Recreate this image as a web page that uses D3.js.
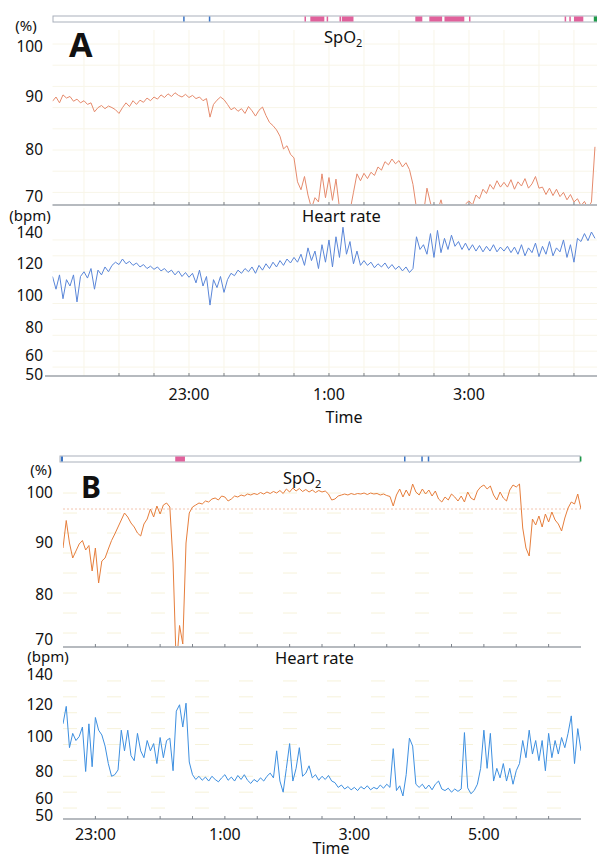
<!DOCTYPE html>
<html lang="en">
<head>
<meta charset="UTF-8">
<title>SpO2 and heart rate</title>
<script src="https://cdnjs.cloudflare.com/ajax/libs/d3/7.8.5/d3.min.js"></script>
<style>
  body { margin: 0; background: #fff; }
  text { font-family: "Noto Sans", "Open Sans", sans-serif; fill: #111; }
</style>
</head>
<body>
<div id="chart"></div>
<script>
// Panel A: one sample every 3 min from 21:03
const aStart = "21:03";
const aStep = 3;
const aSpo2 = [
  89.2, 90.0, 88.9, 90.4, 89.8, 90.1, 89.2, 89.6, 88.9, 89.3,
  88.6, 88.9, 87.2, 88.0, 88.4, 87.8, 88.3, 88.0, 87.6, 86.9,
  88.0, 88.9, 88.2, 89.3, 88.6, 89.4, 89.0, 89.8, 89.3, 90.0,
  89.6, 90.4, 89.9, 90.6, 90.1, 90.8, 90.3, 90.0, 90.5, 89.9,
  90.3, 89.7, 90.0, 89.3, 89.7, 86.2, 88.6, 89.4, 90.0, 89.5,
  88.6, 87.6, 88.0, 87.3, 87.8, 86.9, 88.2, 87.4, 86.4, 87.5,
  88.1, 86.5, 85.2, 84.6, 83.8, 82.6, 80.2, 80.8, 79.2, 78.5,
  74.0, 72.5, 75.0, 71.5, 69.0, 71.0, 70.2, 75.5, 71.0, 74.8,
  70.5, 74.5, 69.0, 68.0, 68.0, 68.5, 72.0, 75.5, 74.2, 75.6,
  74.6, 75.8, 75.2, 76.8, 76.2, 77.8, 77.2, 78.3, 77.4, 78.0,
  76.8, 77.6, 76.3, 73.5, 69.0, 68.0, 68.0, 72.8, 70.0, 68.0,
  68.5, 70.6, 68.0, 68.0, 68.0, 68.0, 68.0, 68.0, 69.8, 70.4,
  69.6, 71.5, 70.8, 72.6, 71.8, 73.5, 72.6, 74.2, 73.0, 73.9,
  73.0, 74.4, 72.6, 74.0, 73.2, 74.6, 72.8, 73.6, 75.0, 72.8,
  73.0, 71.6, 72.8, 71.4, 72.6, 71.2, 72.0, 70.6, 71.6, 70.2,
  70.8, 69.5, 70.3, 69.0, 70.2, 80.6
];
const aHr = [
  112, 104, 113, 98, 110, 106, 113, 96, 112, 115,
  111, 117, 104, 116, 113, 118, 115, 119, 121, 119.5,
  123, 120, 121.5, 119, 120.5, 118, 119.5, 117, 118.5, 116.5,
  118, 115.5, 117, 114.5, 116, 113, 115.5, 112, 114.5, 111.5,
  114, 108, 116, 106, 112, 94, 110, 105, 112, 102,
  110, 114, 112.5, 116, 114, 117, 115, 118, 114, 119,
  116, 120, 117, 121, 118, 122, 119, 123, 120.5, 124,
  121, 126, 119, 130, 122, 128, 117, 132, 121, 135,
  118, 137, 124, 143, 126, 134, 120, 128, 119, 122,
  119, 121, 117.5, 120, 118, 120.5, 117, 119.5, 116.5, 118.5,
  115.5, 118, 114.5, 117, 137, 129, 132, 126, 139, 124,
  141, 127, 136, 129, 138, 131, 134, 129, 133, 128.5,
  132, 128, 131.5, 127.5, 131, 128, 132, 127.5, 130.5, 128,
  131, 127, 130.5, 126, 132, 125, 130, 127, 133, 124.5,
  131, 126, 134, 125, 130, 127.5, 135, 124, 132, 121,
  136, 134, 139, 134.5, 140, 136
];
const aTicks = ["23:00", "1:00", "3:00"];
const aEvents = [
  ["22:55", "22:55", "blue"], ["23:17", "23:17", "blue"],
  ["0:39", "0:39", "pink"], ["0:44", "0:56", "pink"], ["0:58", "0:58", "pink"],
  ["1:09", "1:09", "pink"], ["1:11", "1:21", "pink"], ["2:14", "2:20", "pink"],
  ["2:26", "2:37", "pink"], ["2:39", "2:56", "pink"], ["3:00", "3:00", "pink"],
  ["4:22", "4:22", "pink"], ["4:26", "4:26", "pink"], ["4:30", "4:38", "pink"],
  ["4:47", "4:50", "green"]
];

// Panel B: one sample every 3 min from 22:30
const bStart = "22:30";
const bStep = 3;
const bSpo2 = [
  89.0, 94.5, 90.0, 87.0, 88.4, 89.8, 90.5, 88.6, 89.5, 84.4,
  89.0, 82.0, 86.4, 87.0, 88.8, 90.5, 91.8, 93.2, 94.6, 96.0,
  95.2, 94.0, 93.2, 92.0, 91.4, 93.8, 94.8, 96.8, 95.2, 97.4,
  95.8, 97.6, 98.0, 97.2, 86.0, 65.0, 73.5, 69.8, 90.0, 96.0,
  97.2, 97.6, 98.0, 97.8, 98.4, 98.2, 98.8, 99.0, 98.6, 99.4,
  99.2, 98.4, 98.8, 99.4, 99.2, 99.6, 99.4, 99.8, 99.6, 99.9,
  99.7, 100.1, 99.8, 100.2, 99.9, 100.3, 100.0, 100.5, 99.9, 100.8,
  100.2, 101.0, 100.4, 100.9, 100.3, 100.7, 100.2, 100.6, 100.1, 100.5,
  100.2, 100.4, 99.8, 98.6, 98.8, 99.4, 99.6, 99.8, 99.6, 99.9,
  99.7, 99.9, 99.8, 100.0, 99.7, 100.0, 99.8, 99.9, 99.6, 99.8,
  99.5, 99.3, 97.4, 99.6, 100.8, 99.2, 100.6, 99.4, 101.8, 100.2,
  99.6, 100.8, 99.8, 100.6, 99.4, 100.4, 98.8, 98.2, 99.2, 98.6,
  99.8, 99.2, 98.4, 99.4, 98.2, 100.2, 99.0, 98.6, 100.4, 101.2,
  101.6, 100.8, 101.4, 99.6, 98.6, 100.2, 99.0, 98.4, 100.6, 101.6,
  101.2, 101.8, 93.0, 89.0, 87.4, 94.8, 93.6, 95.4, 93.2, 95.8,
  94.2, 96.2, 94.6, 93.8, 92.4, 95.0, 97.0, 98.2, 97.8, 99.8,
  96.8
];
const bHr = [
  108, 119, 93, 102, 97.5, 100, 106, 78, 108, 81,
  112, 104, 101, 94, 83, 75, 76, 79, 104, 91,
  104, 88, 84.8, 102, 91, 86.7, 97.5, 91, 95.6, 83,
  99.4, 86.7, 97.5, 99, 78.5, 116, 120, 106, 121, 84,
  76, 73, 75, 72.5, 74.5, 72, 75, 73, 71.5, 74,
  76, 72.5, 74.5, 72, 75.5, 73, 76, 72.5, 70.5, 73,
  71.5, 74, 72, 75, 77, 74, 91, 72, 65, 80,
  95.6, 72, 80, 93, 75, 77, 81.6, 74, 76, 72.5,
  75, 73, 75.5, 72, 71, 68, 69.5, 67, 68.5, 66.5,
  68, 66, 68.5, 67, 69, 66.5, 68, 67, 69.5, 67.5,
  70, 68, 92.4, 66, 69, 62.6, 76, 99, 94, 70,
  68, 70, 67, 69.5, 66.5, 70, 72, 67, 66, 67.5,
  65, 67, 65.5, 67, 102.5, 67.7, 64, 66, 70, 80,
  104, 80, 102, 72, 80, 74, 83, 72, 80, 70,
  78.5, 83, 97.5, 86.7, 104, 89, 97.5, 84.8, 97.5, 78.5,
  102, 86.7, 97.5, 89, 99.4, 93, 102, 113, 83, 105,
  91
];
const bTicks = ["23:00", "1:00", "3:00", "5:00"];
const bEvents = [
  ["22:28", "22:30", "blue"], ["0:14", "0:23", "pink"],
  ["3:46", "3:46", "blue"], ["4:02", "4:02", "blue"], ["4:08", "4:08", "blue"],
  ["6:29", "6:30", "green"]
];
const spo2Ticks = [70, 80, 90, 100];
const hrTicks = [50, 60, 80, 100, 120, 140];

// evening hours fall on day 1, after midnight on day 2
function clock(s) {
  const [h, m] = s.split(":").map(Number);
  return new Date(2020, 0, h >= 12 ? 1 : 2, h, m);
}
function series(start, step, vals) {
  const t0 = +clock(start);
  return vals.map((v, i) => ({ t: new Date(t0 + i * step * 60000), v: v }));
}

const eventColor = { pink: "#e0619b", blue: "#3b74c4", green: "#1f9a4a" };

const svg = d3.select("#chart").append("svg")
  .attr("width", 597).attr("height", 859);
const defs = svg.append("defs");

function panel(o) {
  const g = svg.append("g");
  const x = d3.scaleTime().domain(o.domain.map(clock)).range(o.xr);
  const [x0, x1] = o.xr;
  const halfHours = d3.timeMinute.every(30).range(x.domain()[0], x.domain()[1]);

  // very faint background grid
  const grid = g.append("g").attr("stroke", o.gridColor).attr("stroke-width", 1)
    .attr("stroke-dasharray", o.gridDash);
  if (o.gridVertical) {
    grid.selectAll(".v1").data(halfHours).join("line")
      .attr("x1", d => x(d)).attr("x2", d => x(d))
      .attr("y1", o.spo2Top).attr("y2", o.spo2Axis);
    grid.selectAll(".v2").data(halfHours).join("line")
      .attr("x1", d => x(d)).attr("x2", d => x(d))
      .attr("y1", o.spo2Axis + 3).attr("y2", o.hrAxis);
  }
  grid.selectAll(".h1").data(d3.range(72, 101, 4)).join("line")
    .attr("x1", x0).attr("x2", x1)
    .attr("y1", d => o.ySpo2(d)).attr("y2", d => o.ySpo2(d));
  grid.selectAll(".h2").data(d3.range(55, 141, 10)).join("line")
    .attr("x1", x0).attr("x2", x1)
    .attr("y1", d => o.yHr(d)).attr("y2", d => o.yHr(d));

  // event bar
  g.append("rect").attr("x", o.barX[0]).attr("y", o.barY)
    .attr("width", o.barX[1] - o.barX[0]).attr("height", 6)
    .attr("fill", "#fff").attr("stroke", "#a9b0bb").attr("stroke-width", 1);
  g.selectAll(".ev").data(o.events).join("rect")
    .attr("x", d => x(clock(d[0])))
    .attr("y", o.barY + 0.5).attr("height", 5)
    .attr("width", d => Math.max(1.5, x(clock(d[1])) - x(clock(d[0]))))
    .attr("fill", d => eventColor[d[2]]);

  // reference line
  if (o.refLine) {
    g.append("line").attr("x1", x0).attr("x2", x1)
      .attr("y1", o.ySpo2(o.refLine)).attr("y2", o.ySpo2(o.refLine))
      .attr("stroke", "#f2c4ae").attr("stroke-width", 1).attr("stroke-dasharray", "2,2");
  }

  // axis lines with half hour ticks
  [o.spo2Axis, o.hrAxis].forEach((ay, k) => {
    g.append("line").attr("x1", k === 1 ? o.hrAxisStart : x0).attr("x2", x1)
      .attr("y1", ay).attr("y2", ay).attr("stroke", "#9ea3aa").attr("stroke-width", 1.5);
    g.selectAll(".tk" + k).data(halfHours.slice(1)).join("line")
      .attr("x1", d => x(d)).attr("x2", d => x(d))
      .attr("y1", ay - 3).attr("y2", ay).attr("stroke", "#7d838b");
  });

  // traces
  const clipS = o.id + "s", clipH = o.id + "h";
  defs.append("clipPath").attr("id", clipS).append("rect")
    .attr("x", x0).attr("y", o.spo2Top - 20).attr("width", x1 - x0).attr("height", o.spo2Axis - 1 - o.spo2Top + 20);
  defs.append("clipPath").attr("id", clipH).append("rect")
    .attr("x", x0).attr("y", o.spo2Axis + 2).attr("width", x1 - x0).attr("height", o.hrAxis - o.spo2Axis - 3);

  g.append("path").datum(o.spo2)
    .attr("clip-path", `url(#${clipS})`)
    .attr("fill", "none").attr("stroke", o.spo2Color).attr("stroke-width", 1)
    .attr("stroke-linejoin", "round")
    .attr("d", d3.line().x(d => x(d.t)).y(d => o.ySpo2(d.v)));
  g.append("path").datum(o.hr)
    .attr("clip-path", `url(#${clipH})`)
    .attr("fill", "none").attr("stroke", o.hrColor).attr("stroke-width", 1)
    .attr("stroke-linejoin", "round")
    .attr("d", d3.line().x(d => x(d.t)).y(d => o.yHr(d.v)));

  // y labels, nudged where the original puts them off the scale line
  const ya = g.append("g").attr("transform", `translate(${o.labelX},0)`)
    .call(d3.axisLeft(o.ySpo2).tickValues(spo2Ticks).tickSize(0).tickPadding(0));
  const yb = g.append("g").attr("transform", `translate(${o.labelX},0)`)
    .call(d3.axisLeft(o.yHr).tickValues(hrTicks).tickSize(0).tickPadding(0));
  [[ya, o.spo2Nudge], [yb, o.hrNudge]].forEach(([a, nudge]) => {
    a.select(".domain").remove();
    a.selectAll("text").attr("font-size", 15.5).attr("font-family", null).attr("fill", "#111")
      .attr("y", d => nudge[d] || 0);
  });

  g.append("text").attr("x", o.pctX).attr("y", o.pctY).attr("text-anchor", "middle")
    .attr("font-size", 15).text("(%)");
  g.append("text").attr("x", o.bpmX).attr("y", o.bpmY).attr("text-anchor", "middle")
    .attr("font-size", 15).text("(bpm)");

  // titles
  const st = g.append("text").attr("x", o.spo2TitleX).attr("y", o.spo2TitleY).attr("font-size", 16.5);
  st.append("tspan").text("SpO");
  st.append("tspan").attr("font-size", 11).attr("dy", 4).text("2");
  g.append("text").attr("x", o.hrTitleX).attr("y", o.hrTitleY).attr("font-size", 16.5).text("Heart rate");

  g.append("text").attr("x", o.letterX).attr("y", o.letterY)
    .attr("font-size", o.letterSize).attr("font-weight", "bold").text(o.letter);

  // time labels
  g.selectAll(".xl").data(o.ticks).join("text")
    .attr("x", d => x(clock(d))).attr("y", o.tickY)
    .attr("text-anchor", "middle").attr("font-size", 16).text(d => d);
  g.append("text").attr("x", o.timeX).attr("y", o.timeY)
    .attr("text-anchor", "middle").attr("font-size", 16).text("Time");
}

panel({
  id: "a", letter: "A", letterX: 69, letterY: 57, letterSize: 34,
  domain: ["21:03", "4:50"], xr: [52.5, 597.3],
  ySpo2: d3.scaleLinear().domain([70, 100]).range([203, 44]),
  yHr: d3.scaleLinear().domain([50, 140]).range([375, 232]),
  spo2Nudge: { 70: -6, 100: 3 }, hrNudge: { 60: -4, 140: 1 },
  spo2Top: 30, spo2Axis: 205, hrAxis: 376, hrAxisStart: 45,
  barX: [53, 597], barY: 16,
  gridColor: "#f8f5e8", gridDash: null, gridVertical: true,
  spo2: series(aStart, aStep, aSpo2), hr: series(aStart, aStep, aHr),
  spo2Color: "#e58a6c", hrColor: "#5a86d8",
  events: aEvents, ticks: aTicks,
  labelX: 43, pctX: 26, pctY: 31, bpmX: 30, bpmY: 221,
  spo2TitleX: 324, spo2TitleY: 43, hrTitleX: 302, hrTitleY: 222,
  tickY: 400, timeX: 344, timeY: 423
});

panel({
  id: "b", letter: "B", letterX: 81, letterY: 498, letterSize: 30,
  domain: ["22:30", "6:30"], xr: [63, 581],
  ySpo2: d3.scaleLinear().domain([70, 100]).range([643, 493]),
  yHr: d3.scaleLinear().domain([50, 140]).range([816, 673]),
  spo2Nudge: { 70: -3, 80: 2 }, hrNudge: { 60: -2, 80: 3, 140: 2 },
  spo2Top: 466, spo2Axis: 647, hrAxis: 819, hrAxisStart: 63,
  barX: [60, 580], barY: 456,
  gridColor: "#f6f2da", gridDash: "14,30", gridVertical: false,
  spo2: series(bStart, bStep, bSpo2), hr: series(bStart, bStep, bHr),
  spo2Color: "#e67e3c", hrColor: "#3d8fe0",
  events: bEvents, ticks: bTicks, refLine: 96.8,
  labelX: 53, pctX: 41, pctY: 475, bpmX: 48, bpmY: 662,
  spo2TitleX: 283, spo2TitleY: 484, hrTitleX: 275, hrTitleY: 664,
  tickY: 840, timeX: 331, timeY: 854
});
</script>
</body>
</html>
